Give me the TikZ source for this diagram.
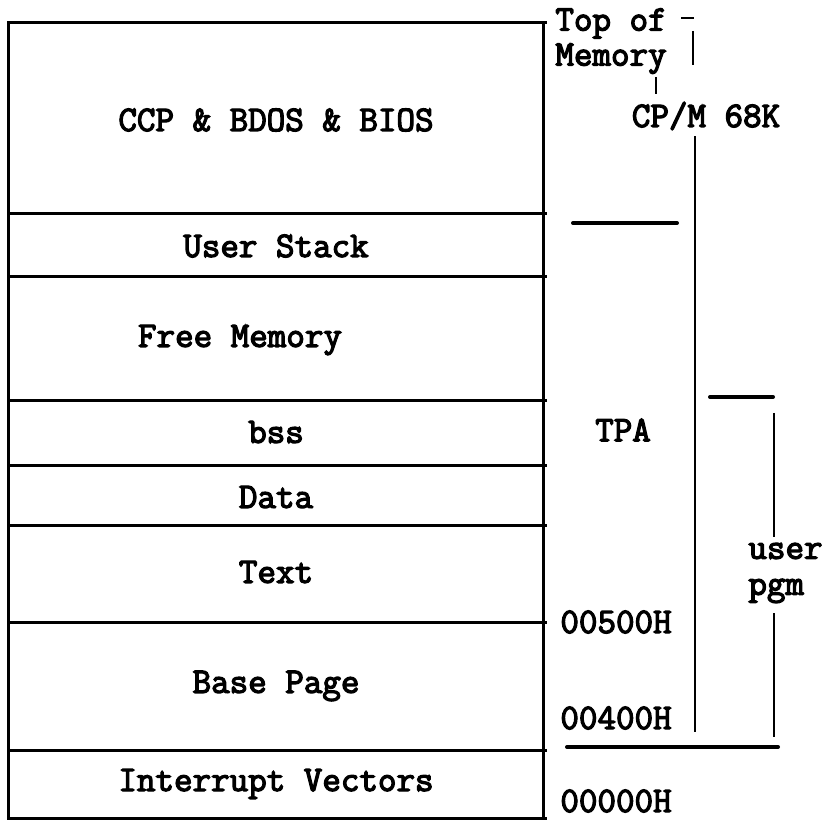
\documentclass[tikz,border=0pt]{standalone}
\usepackage{fontspec}
\setmonofont{Latin Modern Mono}[FakeBold=3.5]
\usetikzlibrary{positioning,calc}

\begin{document}
\begin{tikzpicture}[x=0.5pt,y=-0.5pt,
  lbl/.style={inner sep=0pt,font=\ttfamily\fontsize{18}{19}\selectfont},
  wall/.style={line width=1.5pt},
  bar/.style={line width=2pt,line cap=round},
  tie/.style={line width=1pt}]
 \useasboundingbox (0,0) rectangle (822,822);
 % memory blocks
 \draw[wall] (8,23) rectangle (543,818);
 \foreach \y in {23,214,277,401,465,525,622,750,818}
   \draw[wall] (8,\y) -- (547,\y);
 \node[lbl] (ccp) at (276,120) {CCP \& BDOS \& BIOS};
 \node[lbl] (stk) at (276,246) {User Stack};
 \node[lbl] (fre) at (240,340) {Free Memory};
 \node[lbl] (bss) at (276,432) {bss};
 \node[lbl] (dat) at (276,497) {Data};
 \node[lbl] (txt) at (276,572) {Text};
 \node[lbl] (bas) at (276,686) {Base Page};
 \node[lbl] (int) at (276,784) {Interrupt Vectors};
 % right side labels
 \node[lbl,anchor=north west,align=left] (tm) at (555,8) {Top of\\[-1.5pt]Memory};
 \node[lbl] (cpm) at (706,116) {CP/M 68K};
 \node[lbl] (tpa) at (623,430) {TPA};
 \node[lbl,anchor=west,align=left] (up) at (748,573) {user\\[-1pt]pgm};
 \node[lbl,anchor=west] (a500) at (560,622) {00500H};
 \node[lbl,anchor=west] (a400) at (560,718) {00400H};
 \node[lbl,anchor=west] (a000) at (560,801) {00000H};
 % CP/M bracket
 \coordinate (d1) at (681,18);
 \coordinate (d2) at (694,18);
 \coordinate (v1) at (693,31);
 \coordinate (m1) at (656,77);
 \coordinate (c0) at (695,732);
 \draw[tie,line width=1.3pt] (d1) -- (d2);
 \draw[tie] (v1) -- (693,65);
 \draw[tie,shorten >=4pt] (m1) -- (m1 |- cpm.north);
 \draw[tie,shorten <=3pt] (cpm.south -| c0) -- (c0);
 % TPA bars
 \coordinate (t1) at (573,223);
 \coordinate (t2) at (677,223);
 \coordinate (b1) at (567,747);
 \coordinate (b2) at (778,747);
 \draw[bar] (t1) -- (t2);
 \draw[bar] (b1) -- (b2);
 % user pgm bracket
 \coordinate (p1) at (710,397);
 \coordinate (p2) at (773,397);
 \coordinate (u1) at (774,413);
 \coordinate (u2) at (774,737);
 \draw[bar] (p1) -- (p2);
 \draw[tie,shorten >=3pt] (u1) -- (u1 |- up.north);
 \draw[tie,shorten <=5pt] (up.south -| u2) -- (u2);
\end{tikzpicture}
\end{document}
